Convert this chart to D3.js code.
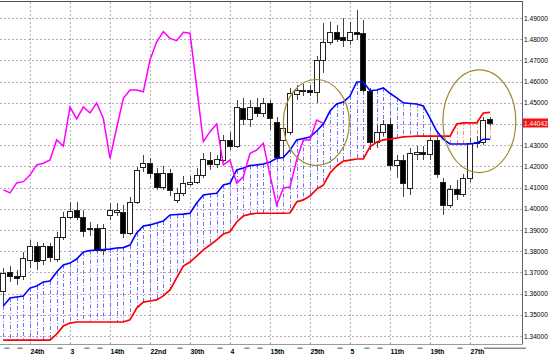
<!DOCTYPE html>
<html><head><meta charset="utf-8">
<script src="https://cdn.jsdelivr.net/npm/d3@7"></script>
<style>html,body{margin:0;padding:0;background:#fff;}svg{display:block;}</style>
</head><body>
<svg id="chart" width="549" height="360"></svg>
<script>
// ---- data (prices) ----
const opens = [1.3609,1.3703,1.3683,1.3680,1.3758,1.3825,1.3758,1.3825,1.3766,1.3867,
1.3963,1.3994,1.3963,1.3902,1.3909,1.3806,1.3971,1.3985,1.3986,1.3887,
1.4033,1.4197,1.4216,1.4169,1.4103,1.4169,1.4042,1.4075,1.4120,1.4128,
1.4159,1.4230,1.4210,1.4233,1.4325,1.4298,1.4474,1.4422,1.4480,1.4451,
1.4500,1.4411,1.4325,1.4364,1.4541,1.4553,1.4560,1.4552,1.4702,1.4788,
1.4835,1.4810,1.4796,1.4833,1.4828,1.4557,1.4317,1.4364,1.4400,1.4207,
1.4230,1.4098,1.4258,1.4268,1.4258,1.4325,1.4128,1.4018,1.4093,1.4070,
1.4145,1.4310,1.4317,1.4422];
const highs = [1.3721,1.3730,1.3711,1.3796,1.3853,1.3843,1.3839,1.3839,1.3891,1.3985,
1.4032,1.4032,1.3994,1.3938,1.3928,1.3928,1.4027,1.4027,1.4018,1.4056,
1.4197,1.4254,1.4240,1.4192,1.4202,1.4188,1.4098,1.4155,1.4155,1.4192,
1.4263,1.4268,1.4254,1.4348,1.4362,1.4513,1.4523,1.4513,1.4523,1.4523,
1.4513,1.4433,1.4395,1.4570,1.4584,1.4589,1.4584,1.4721,1.4876,1.4883,
1.4867,1.4900,1.4881,1.4938,1.4891,1.4570,1.4395,1.4419,1.4428,1.4254,
1.4254,1.4287,1.4296,1.4296,1.4348,1.4343,1.4145,1.4112,1.4136,1.4164,
1.4334,1.4343,1.4433,1.4433];
const lows = [1.3546,1.3655,1.3641,1.3664,1.3721,1.3711,1.3735,1.3749,1.3749,1.3853,
1.3952,1.3947,1.3867,1.3872,1.3796,1.3782,1.3947,1.3966,1.3862,1.3876,
1.4023,1.4174,1.4145,1.4089,1.4089,1.4060,1.4027,1.4060,1.4108,1.4117,
1.4145,1.4183,1.4192,1.4221,1.4277,1.4287,1.4395,1.4386,1.4433,1.4433,
1.4372,1.4240,1.4240,1.4348,1.4513,1.4532,1.4532,1.4499,1.4641,1.4773,
1.4787,1.4763,1.4773,1.4796,1.4551,1.4277,1.4287,1.4343,1.4183,1.4145,
1.4056,1.4065,1.4230,1.4230,1.4230,1.4145,1.3971,1.4004,1.4042,1.4056,
1.4126,1.4287,1.4301,1.4391];
const closes = [1.3696,1.3683,1.3672,1.3766,1.3825,1.3755,1.3825,1.3771,1.3868,1.3963,
1.3991,1.3963,1.3897,1.3909,1.3806,1.3909,1.3994,1.3994,1.3887,1.4033,
1.4183,1.4216,1.4169,1.4103,1.4169,1.4089,1.4075,1.4122,1.4128,1.4159,
1.4233,1.4210,1.4233,1.4325,1.4296,1.4482,1.4422,1.4480,1.4451,1.4498,
1.4427,1.4246,1.4381,1.4546,1.4560,1.4560,1.4550,1.4702,1.4788,1.4835,
1.4804,1.4794,1.4832,1.4825,1.4557,1.4317,1.4364,1.4400,1.4207,1.4230,
1.4122,1.4263,1.4269,1.4258,1.4325,1.4164,1.4018,1.4093,1.4070,1.4145,
1.4310,1.4317,1.4419,1.44042];
const senkouA = [1.3542,1.3579,1.3584,1.3589,1.3626,1.3636,1.3655,1.3659,1.3702,1.3735,
1.3744,1.3763,1.3796,1.3803,1.3806,1.3808,1.3810,1.3815,1.3817,1.3829,
1.3886,1.3919,1.3924,1.3933,1.3942,1.3971,1.3973,1.3975,1.3979,1.4027,
1.4065,1.4070,1.4073,1.4112,1.4120,1.4183,1.4192,1.4204,1.4207,1.4211,
1.4221,1.4238,1.4242,1.4277,1.4325,1.4332,1.4339,1.4367,1.4400,1.4461,
1.4494,1.4504,1.4532,1.4598,1.4598,1.4557,1.4560,1.4570,1.4545,1.4523,
1.4500,1.4497,1.4494,1.4485,1.4428,1.4367,1.4328,1.4306,1.4306,1.4306,
1.4306,1.4310,1.4328,1.4328];
const senkouB = [1.3381,1.3381,1.3381,1.3381,1.3381,1.3381,1.3381,1.3381,1.3409,1.3447,
1.3461,1.3466,1.3466,1.3466,1.3466,1.3466,1.3466,1.3466,1.3466,1.3476,
1.3532,1.3560,1.3565,1.3570,1.3589,1.3617,1.3674,1.3730,1.3749,1.3777,
1.3806,1.3829,1.3853,1.3881,1.3892,1.3938,1.3966,1.3975,1.3979,1.3979,
1.3979,1.3979,1.3979,1.3980,1.4032,1.4042,1.4060,1.4093,1.4112,1.4169,
1.4202,1.4225,1.4230,1.4235,1.4235,1.4292,1.4315,1.4325,1.4329,1.4334,
1.4339,1.4341,1.4343,1.4343,1.4343,1.4343,1.4343,1.4343,1.4400,1.4405,
1.4405,1.4405,1.4452,1.4455];
const chikou = [1.4089,1.4075,1.4122,1.4128,1.4159,1.4207,1.4215,1.4230,1.4325,1.4296,
1.4480,1.4424,1.4480,1.4452,1.4499,1.4427,1.4238,1.4381,1.4521,1.4560,
1.4560,1.4552,1.4702,1.4788,1.4835,1.4804,1.4793,1.4833,1.4828,1.4575,
1.4317,1.4364,1.4400,1.4207,1.4230,1.4120,1.4151,1.4262,1.4277,1.4309,
1.4159,1.4018,1.4097,1.4104,1.4230,1.4325,1.4325,1.4419,1.4403];
const priceTicks = [1.34,1.35,1.36,1.37,1.38,1.39,1.40,1.41,1.42,1.43,1.44,1.45,1.46,1.47,1.48,1.49];
const dateLabels = ["24th","3","14th","22nd","30th","4","15th","25th","5","11th","19th","27th"];
const dateLabelBars = [4,10,16,22,28,34,40,46,52,58,64,70];
const lastPrice = 1.44042;
// annotation ellipses: centre bar / price and radii in bars / price
const ellipseBars = [46.95, 71.4];
const ellipsePrices = [1.4407, 1.4413];
const ellipseBarRadii = [4.95, 5.47];
const ellipsePriceRadii = [0.0203, 0.0242];

// ---- drawing ----
const plotRight = 522, plotTop = 2, plotBottom = 344;
const n = opens.length;
const x = d3.scaleLinear().domain([0, n - 1]).range([3.33, 490]);
const y = d3.scaleLinear().domain([1.34, 1.49]).range([336, 18]);
const svg = d3.select("#chart");
svg.append("rect").attr("width",549).attr("height",360).attr("fill","#fff");
svg.append("defs").append("clipPath").attr("id","clip")
  .append("rect").attr("x",0).attr("y",plotTop).attr("width",plotRight).attr("height",plotBottom-plotTop);
const g = svg.append("g").attr("clip-path","url(#clip)");
const px = v => Math.round(v) + 0.5;

// grid
g.selectAll(".hg").data(priceTicks).join("line")
  .attr("x1",0).attr("x2",plotRight)
  .attr("y1",d=>px(y(d))).attr("y2",d=>px(y(d)))
  .attr("stroke","#c8a0c4").attr("stroke-width",1).attr("stroke-dasharray","2,2");
g.selectAll(".vg").data(dateLabelBars).join("line")
  .attr("x1",d=>px(x(d))).attr("x2",d=>px(x(d)))
  .attr("y1",plotTop).attr("y2",plotBottom)
  .attr("stroke","#a8bcbc").attr("stroke-width",1).attr("stroke-dasharray","2,2");

// kumo hatching
const bars = d3.range(n);
g.selectAll(".hatch").data(bars).join("line")
  .attr("x1",i=>px(x(i))).attr("x2",i=>px(x(i)))
  .attr("y1",i=>y(senkouA[i])).attr("y2",i=>y(senkouB[i]))
  .attr("stroke",i=>senkouA[i]>=senkouB[i]?"#7070ff":"#ff8c8c")
  .attr("stroke-width",1).attr("stroke-dasharray","4,2,1,2");

// candles
const cg = g.append("g");
cg.selectAll(".wick").data(bars).join("line")
  .attr("x1",i=>px(x(i))).attr("x2",i=>px(x(i)))
  .attr("y1",i=>y(highs[i])).attr("y2",i=>y(lows[i]))
  .attr("stroke","#444").attr("stroke-width",1);
cg.selectAll(".body").data(bars).join("rect")
  .attr("x",i=>Math.round(x(i)) - 2.5)
  .attr("width",5)
  .attr("y",i=>Math.round(y(Math.max(opens[i],closes[i])))+0.5)
  .attr("height",i=>Math.max(1, Math.round(Math.abs(y(opens[i])-y(closes[i])))))
  .attr("fill",i=>closes[i]>=opens[i]?"#fff":"#000")
  .attr("stroke","#222").attr("stroke-width",1);

// span lines
const line = d3.line().x((d,i)=>x(i)).y(d=>y(d));
g.append("path").datum(senkouB).attr("d",line).attr("fill","none").attr("stroke","#ff0000").attr("stroke-width",1.7);
g.append("path").datum(senkouA).attr("d",line).attr("fill","none").attr("stroke","#0000ff").attr("stroke-width",1.6);
g.append("path").datum(chikou).attr("d",line).attr("fill","none").attr("stroke","#ff00ff").attr("stroke-width",1.5);

// ellipses
g.selectAll(".ell").data(ellipseBars).join("ellipse")
  .attr("cx",(d,i)=>x(d)).attr("cy",(d,i)=>y(ellipsePrices[i]))
  .attr("rx",(d,i)=>x(d+ellipseBarRadii[i])-x(d))
  .attr("ry",(d,i)=>y(ellipsePrices[i]-ellipsePriceRadii[i])-y(ellipsePrices[i]))
  .attr("fill","none").attr("stroke","#9a8a2c").attr("stroke-width",1.2);

// frame
svg.append("line").attr("x1",0).attr("x2",plotRight+0.5).attr("y1",1.5).attr("y2",1.5).attr("stroke","#505060");
svg.append("line").attr("x1",plotRight+0.5).attr("x2",plotRight+0.5).attr("y1",1).attr("y2",plotBottom+0.5).attr("stroke","#606070");
svg.append("line").attr("x1",0).attr("x2",plotRight+0.5).attr("y1",plotBottom+0.5).attr("y2",plotBottom+0.5).attr("stroke","#9a9aa0");

// price axis
const yAxis = d3.axisRight(y).tickValues(priceTicks).tickFormat(d3.format(".5f")).tickSize(0).tickPadding(2);
const ya = svg.append("g").attr("transform",`translate(${plotRight},0)`).call(yAxis);
ya.select(".domain").remove();
ya.selectAll("text").attr("font-family","Liberation Sans, Arial, sans-serif").attr("font-size","6.6px").attr("fill","#000");

// current price label
svg.append("rect").attr("x",plotRight+1).attr("y",Math.round(y(lastPrice))-4.5).attr("width",25).attr("height",9).attr("fill","#ff1010");
svg.append("text").attr("x",plotRight+2).attr("y",y(lastPrice)+2.4).text(d3.format(".5f")(lastPrice))
  .attr("font-family","Liberation Sans, Arial, sans-serif").attr("font-size","6.6px").attr("fill","#ccffff");

// time axis
const xAxis = d3.axisBottom(x).tickValues(dateLabelBars).tickFormat((d,i)=>dateLabels[i]).tickSize(0).tickPadding(5);
const xa = svg.append("g").attr("transform",`translate(0,${plotBottom})`).call(xAxis);
xa.select(".domain").remove();
xa.selectAll("text").attr("text-anchor","start").attr("font-family","Liberation Sans, Arial, sans-serif")
  .attr("font-weight","bold").attr("font-size","6.8px").attr("fill","#000");

// tick dashes below axis (every second bar), skipped under labels
const labelSpans = [];
xa.selectAll("text").each(function(d){ labelSpans.push([x(d)-2, x(d)+this.getComputedTextLength()+2]); });
const dashBars = d3.range(0, n, 2).map(i=>i+0.5);
svg.selectAll(".dash").data(dashBars.filter(b=>!labelSpans.some(s=>x(b)+2.5>=s[0] && x(b)-2.5<=s[1])))
  .join("rect").attr("x",b=>Math.round(x(b))-2.5).attr("y",347.5).attr("width",5).attr("height",1.5).attr("fill","#8a8a8a");
svg.append("rect").attr("x",484).attr("y",347.5).attr("width",42).attr("height",1.5).attr("fill","#8a8a8a");
</script>
</body></html>
